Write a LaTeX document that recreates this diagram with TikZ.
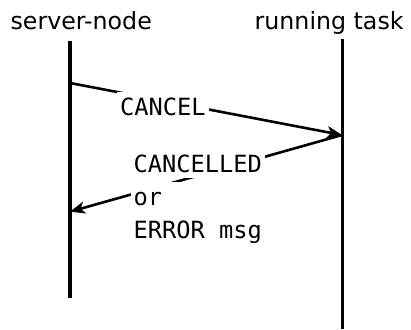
\documentclass[tikz,border=0pt]{standalone}
\usepackage{fontspec}
\setmainfont{DejaVu Sans}
\setmonofont{DejaVu Sans Mono}
\usetikzlibrary{arrows.meta}

% one line of a message label on a white band, as wide as #1
\newcommand{\msgline}[2]{{\setlength{\fboxsep}{0pt}%
  \colorbox{white}{\hspace{3pt}\rule[-5.5pt]{0pt}{28.5pt}\rlap{#2}\phantom{#1}\hspace{3pt}}}}

\begin{document}
\begin{tikzpicture}[x=1pt, y=-1pt,
    rolename/.style={font=\fontsize{23.7}{33}\selectfont, inner sep=0pt, anchor=base west},
    lifeline/.style={line width=3.3pt},
    msg/.style={line width=2.6pt, -{Stealth[length=15pt, width=12pt, inset=4pt]}},
    msglabel/.style={font=\ttfamily\fontsize{23.7}{33}\selectfont, align=left,
        inner sep=0pt, anchor=north west}]
    \useasboundingbox (0,0) rectangle (411,329);

    % the two parties
    \node[rolename] (srv) at (10.4,30) {server-node};
    \node[rolename] (task) at (254.5,30) {running task};

    % lifelines
    \coordinate (srvtop) at (70,41);
    \coordinate (srvend) at (70,298);
    \coordinate (tasktop) at (342.5,39);
    \coordinate (taskend) at (342.5,329);
    \draw[lifeline] (srvtop) -- (srvend);
    \draw[lifeline] (tasktop) -- (taskend);

    % request and answer
    \coordinate (askfrom) at (70,83);
    \coordinate (askto) at (342,135);
    \coordinate (replyfrom) at (342,135);
    \coordinate (replyto) at (70,211.7);
    \draw[msg] (askfrom) -- (askto);
    \draw[msg] (replyfrom) -- (replyto);

    % labels go over the arrows
    \node[msglabel] (asktxt) at (116.8,92) {\msgline{CANCEL}{CANCEL}};
    \node[msglabel] (replytxt) at (130.4,149) {\msgline{CANCELLED}{CANCELLED}\\
        \msgline{CANCELLED}{or}\\
        \msgline{CANCELLED}{ERROR msg}};
\end{tikzpicture}
\end{document}
